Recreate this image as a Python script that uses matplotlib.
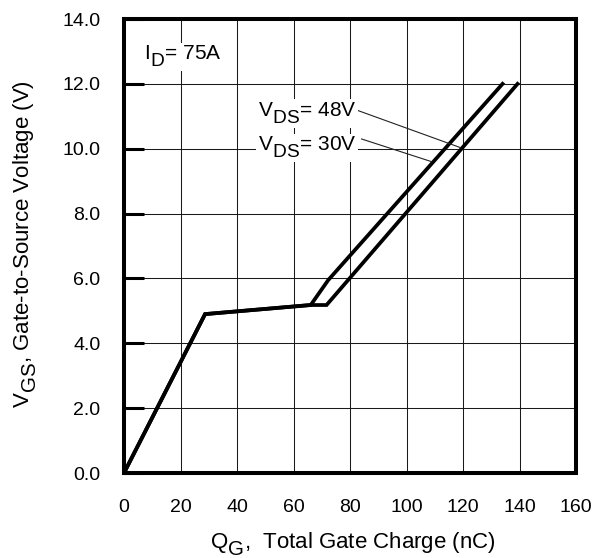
"""Gate charge curve: V_GS vs Q_G for two V_DS values."""

import matplotlib
matplotlib.use("Agg")
import matplotlib.pyplot as plt
import matplotlib._mathtext as mathtext_internals

# datasheet-style subscripts: nearly full size and dropped well below the baseline
mathtext_internals.SHRINK_FACTOR = 0.92
mathtext_internals.FontConstantsBase.sub1 = 0.65

# Curve vertices (nC, V)
q_48v = [0.0, 28.7, 66.1, 72.3, 134.0]
v_48v = [0.0, 4.90, 5.18, 5.95, 12.0]
q_30v = [0.0, 28.7, 66.1, 71.7, 139.3]
v_30v = [0.0, 4.90, 5.18, 5.18, 12.0]

x_ticks = [0, 20, 40, 60, 80, 100, 120, 140, 160]
y_ticks = [0, 2, 4, 6, 8, 10, 12, 14]
y_tick_labels = ["0.0", "2.0", "4.0", "6.0", "8.0", "10.0", "12.0", "14.0"]

# leader lines from labels to curves
lead_48v_q = [82.4, 118.9]
lead_48v_v = [11.19, 10.04]
lead_30v_q = [84.1, 108.9]
lead_30v_v = [10.30, 9.60]

plt.rcParams.update(
    {
        "font.family": ["Liberation Sans", "DejaVu Sans"],
        "mathtext.fontset": "custom",
        "mathtext.rm": "Liberation Sans",
        "mathtext.it": "Liberation Sans",
        "font.size": 14,
    }
)

fig = plt.figure(figsize=(5.98, 5.58), dpi=100)
ax = fig.add_axes([124 / 598, 1 - 473 / 558, 452 / 598, 454 / 558])

ax.set_xlim(0, 160)
ax.set_ylim(0, 14)
ax.set_xticks(x_ticks)
ax.set_yticks(y_ticks)
ax.set_yticklabels(y_tick_labels)

ax.grid(True, color="#1a1a1a", linewidth=0.75, zorder=1)
ax.set_axisbelow(True)

for sp in ax.spines.values():
    sp.set_linewidth(2.9)
    sp.set_zorder(5)

ax.tick_params(axis="y", direction="in", length=14.5, width=2.2, pad=17, labelsize=14)
ax.tick_params(axis="x", length=0, pad=19, labelsize=14)

ax.plot(q_48v, v_48v, color="black", linewidth=2.7, solid_joinstyle="miter", zorder=3)
ax.plot(q_30v, v_30v, color="black", linewidth=2.7, solid_joinstyle="miter", zorder=3)

ax.plot(lead_48v_q, lead_48v_v, color="#222222", linewidth=0.8, zorder=3)
ax.plot(lead_30v_q, lead_30v_v, color="#222222", linewidth=0.8, zorder=3)

box = dict(facecolor="white", edgecolor="none", pad=1.0)
ax.text(7.1, 12.73, r"$\mathregular{I_D}$= 75A", fontsize=15, ha="left", va="baseline",
        bbox=box, zorder=4)
ax.text(47.4, 10.98, r"$\mathregular{V_{DS}}$= 48V", fontsize=15, ha="left", va="baseline",
        bbox=box, zorder=4)
ax.text(47.4, 9.93, r"$\mathregular{V_{DS}}$= 30V", fontsize=15, ha="left", va="baseline",
        bbox=box, zorder=4)

fig.text(353 / 598, 1 - 548 / 558, r"$\mathregular{Q_G}$,  Total Gate Charge (nC)",
         fontsize=16, ha="center", va="baseline")
fig.text(25.5 / 598, 1 - 244 / 558, r"$\mathregular{V_{GS}}$, Gate-to-Source Voltage (V)",
         fontsize=16, ha="center", va="center", rotation=90)

fig.savefig("out.png", dpi=100)
